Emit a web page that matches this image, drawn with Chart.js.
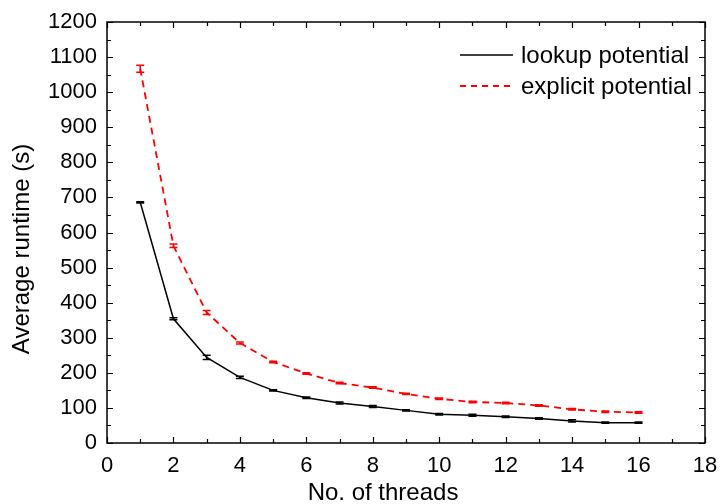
<!DOCTYPE html>
<html>
<head>
<meta charset="utf-8">
<script src="https://cdn.jsdelivr.net/npm/chart.js@4/dist/chart.umd.min.js"></script>
<style>
  html, body { margin: 0; padding: 0; background: #fff; }
  #wrap { width: 720px; height: 504px; position: relative; }
</style>
</head>
<body>
<div id="wrap"><canvas id="runtime_chart"></canvas></div>
<script>
// thread counts and average runtimes (s)
const threads       = [1, 2, 3, 4, 5, 6, 7, 8, 9, 10, 11, 12, 13, 14, 15, 16];
const lookupTime    = [686, 354, 244, 187, 150, 129, 114, 104, 93, 82, 79, 75, 70, 63, 58, 58];
const lookupErr     = [2, 3, 6, 3, 2, 2, 3, 3, 2, 2, 3, 2, 2, 3, 2, 2];
const explicitTime  = [1067, 562, 372, 285, 231, 198, 171, 158, 140, 126, 117, 114, 107, 96, 89, 87];
const explicitErr   = [10, 5, 6, 3, 2, 2, 2, 2, 2, 2, 2, 2, 2, 2, 2, 2];
const seriesNames   = ["lookup potential", "explicit potential"];
const xTicks        = [0, 2, 4, 6, 8, 10, 12, 14, 16, 18];
const yTicks        = [0, 100, 200, 300, 400, 500, 600, 700, 800, 900, 1000, 1100, 1200];
const xTitle        = "No. of threads";
const yTitle        = "Average runtime (s)";

const FONT = "'Liberation Sans', Arial, sans-serif";

// frame with inward ticks on all four sides, Origin style
const framePlugin = {
  id: "frame",
  afterDraw(chart) {
    const { ctx, chartArea: a, scales: { x, y } } = chart;
    ctx.save();
    ctx.strokeStyle = "#000";
    ctx.lineWidth = 1.5;
    ctx.strokeRect(a.left, a.top, a.right - a.left, a.bottom - a.top);
    ctx.lineWidth = 1.2;
    ctx.beginPath();
    for (let v = 0; v <= 18; v += 1) {
      const px = Math.round(x.getPixelForValue(v)) + 0.5;
      const len = v % 2 === 0 ? 6 : 4;
      ctx.moveTo(px, a.bottom); ctx.lineTo(px, a.bottom - len);
      ctx.moveTo(px, a.top);    ctx.lineTo(px, a.top + len);
    }
    for (let v = 0; v <= 1200; v += 50) {
      const py = Math.round(y.getPixelForValue(v)) + 0.5;
      const len = v % 100 === 0 ? 6 : 4;
      ctx.moveTo(a.left, py);  ctx.lineTo(a.left + len, py);
      ctx.moveTo(a.right, py); ctx.lineTo(a.right - len, py);
    }
    ctx.stroke();

    // axis titles
    ctx.fillStyle = "#000";
    ctx.font = "24px " + FONT;
    ctx.textAlign = "center";
    ctx.textBaseline = "alphabetic";
    ctx.fillText(xTitle, 383, 500);
    ctx.translate(29, 249);
    ctx.rotate(-Math.PI / 2);
    ctx.fillText(yTitle, 0, 0);
    ctx.restore();
  },
};

// vertical error bars with caps
const errorBarPlugin = {
  id: "errorBars",
  afterDatasetsDraw(chart) {
    const { ctx, scales: { x, y } } = chart;
    ctx.save();
    chart.data.datasets.forEach((ds) => {
      ctx.strokeStyle = ds.borderColor;
      ctx.lineWidth = 1.5;
      ctx.beginPath();
      ds.data.forEach((p, i) => {
        const e = ds.errors[i];
        const px = x.getPixelForValue(p.x);
        const top = y.getPixelForValue(p.y + e);
        const bot = y.getPixelForValue(p.y - e);
        ctx.moveTo(px, top); ctx.lineTo(px, bot);
        ctx.moveTo(px - 4, top); ctx.lineTo(px + 4, top);
        ctx.moveTo(px - 4, bot); ctx.lineTo(px + 4, bot);
      });
      ctx.stroke();
    });
    ctx.restore();
  },
};

// legend in the upper right of the plot area
const legendPlugin = {
  id: "innerLegend",
  afterDraw(chart) {
    const { ctx, chartArea: a } = chart;
    ctx.save();
    ctx.font = "24px " + FONT;
    ctx.textBaseline = "middle";
    ctx.fillStyle = "#000";
    chart.data.datasets.forEach((ds, i) => {
      const yy = a.top + 33 + i * 31;
      const x0 = a.right - 245;
      ctx.strokeStyle = ds.borderColor;
      ctx.lineWidth = ds.borderWidth;
      ctx.setLineDash(i === 1 ? [6, 5] : []);
      ctx.beginPath();
      ctx.moveTo(x0, yy); ctx.lineTo(x0 + 53, yy);
      ctx.stroke();
      ctx.setLineDash([]);
      ctx.fillText(seriesNames[i], x0 + 61, yy + 1);
    });
    ctx.restore();
  },
};

const ctx = document.getElementById("runtime_chart").getContext("2d");
new Chart(ctx, {
  type: "line",
  data: {
    datasets: [
      {
        label: seriesNames[0],
        data: threads.map((t, i) => ({ x: t, y: lookupTime[i] })),
        errors: lookupErr,
        borderColor: "#000000",
        borderWidth: 1.5,
        pointRadius: 0,
        tension: 0,
      },
      {
        label: seriesNames[1],
        data: threads.map((t, i) => ({ x: t, y: explicitTime[i] })),
        errors: explicitErr,
        borderColor: "#ff0000",
        borderWidth: 1.8,
        borderDash: [7, 5],
        pointRadius: 0,
        tension: 0,
      },
    ],
  },
  options: {
    responsive: true,
    maintainAspectRatio: false,
    animation: false,
    layout: { padding: { top: 22, right: 15, left: 0, bottom: 0 } },
    plugins: { legend: { display: false }, tooltip: { enabled: false } },
    scales: {
      x: {
        type: "linear",
        min: 0, max: 18,
        afterBuildTicks: (s) => { s.ticks = xTicks.map((v) => ({ value: v })); },
        afterFit: (s) => { s.height = 61; s.paddingLeft = 0; s.paddingRight = 0; },
        grid: { display: false, drawTicks: false },
        border: { display: false },
        ticks: { color: "#000", font: { family: FONT, size: 22 }, padding: 10, maxRotation: 0, callback: (v) => String(v) },
      },
      y: {
        type: "linear",
        min: 0, max: 1200,
        afterBuildTicks: (s) => { s.ticks = yTicks.map((v) => ({ value: v })); },
        afterFit: (s) => { s.width = 107; s.paddingTop = 0; s.paddingBottom = 0; },
        grid: { display: false, drawTicks: false },
        border: { display: false },
        ticks: { color: "#000", font: { family: FONT, size: 22 }, padding: 10, callback: (v) => String(v) },
      },
    },
  },
  plugins: [framePlugin, errorBarPlugin, legendPlugin],
});
</script>
</body>
</html>
